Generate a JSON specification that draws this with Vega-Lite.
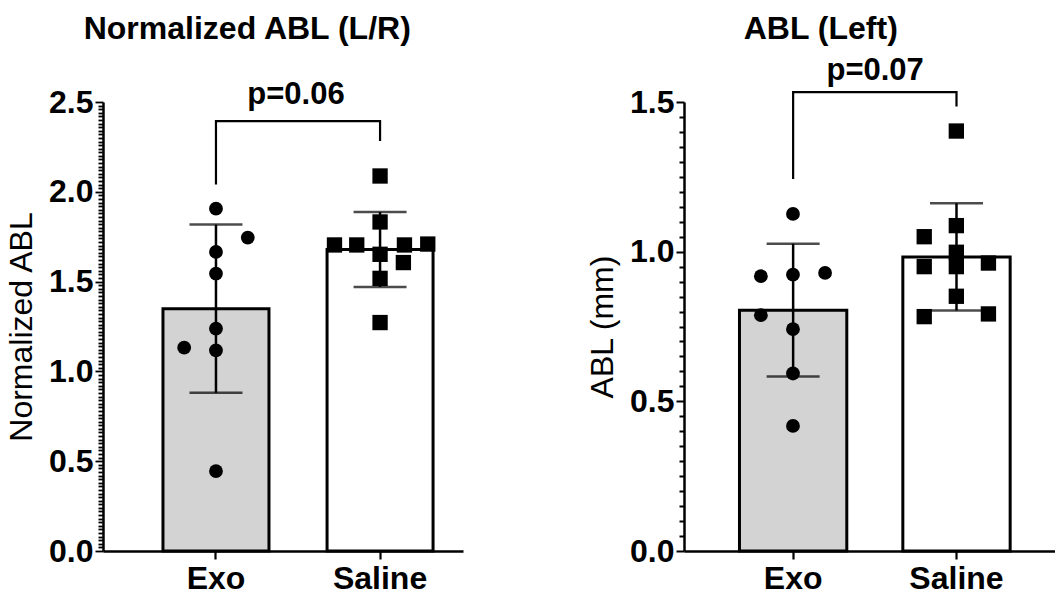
{
  "$schema": "https://vega.github.io/schema/vega-lite/v6.json",
  "padding": {"left": 5, "top": 12, "right": 0, "bottom": 5},
  "bounds": "flush",
  "spacing": 221,
  "config": {
    "font": "Liberation Sans",
    "view": {"stroke": null},
    "title": {"fontSize": 32, "fontWeight": "bold", "color": "black", "font": "Liberation Sans", "anchor": "middle", "frame": "bounds"},
    "axis": {"domainColor": "black", "tickColor": "black", "labelColor": "black", "titleColor": "black", "grid": false, "labelOverlap": false}
  },
  "hconcat": [
    {
      "width": 360,
      "height": 449,
      "title": {"text": "Normalized ABL (L/R)", "offset": 33, "dx": 13},
      "data": {"values": [
        {"group": "Exo", "value": 1.906, "jit": 0},
        {"group": "Exo", "value": 1.745, "jit": 0.30},
        {"group": "Exo", "value": 1.665, "jit": 0},
        {"group": "Exo", "value": 1.545, "jit": 0},
        {"group": "Exo", "value": 1.238, "jit": 0},
        {"group": "Exo", "value": 1.132, "jit": -0.30},
        {"group": "Exo", "value": 1.117, "jit": 0},
        {"group": "Exo", "value": 0.445, "jit": 0},
        {"group": "Saline", "value": 2.088, "jit": 0},
        {"group": "Saline", "value": 1.832, "jit": 0},
        {"group": "Saline", "value": 1.704, "jit": -0.43},
        {"group": "Saline", "value": 1.704, "jit": -0.22},
        {"group": "Saline", "value": 1.704, "jit": 0.23},
        {"group": "Saline", "value": 1.709, "jit": 0.45},
        {"group": "Saline", "value": 1.652, "jit": 0},
        {"group": "Saline", "value": 1.606, "jit": 0.22},
        {"group": "Saline", "value": 1.518, "jit": 0},
        {"group": "Saline", "value": 1.272, "jit": 0}
      ]},
      "encoding": {
        "x": {"field": "group", "type": "nominal", "sort": ["Exo", "Saline"],
          "scale": {"paddingInner": 0.354, "paddingOuter": 0.274, "align": 0.667},
          "axis": {"title": null, "labelAngle": 0, "labelFontSize": 32, "labelFontWeight": "bold", "labelPadding": 4, "tickSize": 8, "tickWidth": 2.2, "domainWidth": 2.5}},
        "y": {"field": "value", "type": "quantitative", "title": "Normalized ABL",
          "scale": {"domain": [0, 2.5], "nice": false},
          "axis": {"title": "Normalized ABL", "titleFontSize": 32, "titleFontWeight": "normal", "titlePadding": 10,
            "values": [0,0.02,0.04,0.06,0.08,0.1,0.12,0.14,0.16,0.18,0.2,0.22,0.24,0.26,0.28,0.3,0.32,0.34,0.36,0.38,0.4,0.42,0.44,0.46,0.48,0.5,0.52,0.54,0.56,0.58,0.6,0.62,0.64,0.66,0.68,0.7,0.72,0.74,0.76,0.78,0.8,0.82,0.84,0.86,0.88,0.9,0.92,0.94,0.96,0.98,1,1.02,1.04,1.06,1.08,1.1,1.12,1.14,1.16,1.18,1.2,1.22,1.24,1.26,1.28,1.3,1.32,1.34,1.36,1.38,1.4,1.42,1.44,1.46,1.48,1.5,1.52,1.54,1.56,1.58,1.6,1.62,1.64,1.66,1.68,1.7,1.72,1.74,1.76,1.78,1.8,1.82,1.84,1.86,1.88,1.9,1.92,1.94,1.96,1.98,2,2.02,2.04,2.06,2.08,2.1,2.12,2.14,2.16,2.18,2.2,2.22,2.24,2.26,2.28,2.3,2.32,2.34,2.36,2.38,2.4,2.42,2.44,2.46,2.48,2.5],
            "labelExpr": "abs(datum.value*2 - round(datum.value*2)) < 0.001 ? format(datum.value, '.1f') : ''",
            "labelFontSize": 32, "labelFontWeight": "bold", "labelPadding": 2, "labelOverlap": false,
            "tickSize": {"condition": {"test": "abs(datum.value*2 - round(datum.value*2)) < 0.001", "value": 8}, "value": 5},
            "tickWidth": 1.8, "domainWidth": 2.5}}
      },
      "resolve": {"scale": {"xOffset": "independent"}},
      "layer": [
        {
          "transform": [{"aggregate": [{"op": "mean", "field": "value", "as": "value"}], "groupby": ["group"]}],
          "mark": {"type": "bar", "stroke": "black", "strokeWidth": 3, "width": {"band": 1}},
          "encoding": {
            "color": {"field": "group", "type": "nominal", "scale": {"domain": ["Exo", "Saline"], "range": ["#d3d3d3", "#ffffff"]}, "legend": null}
          }
        },
        {
          "mark": {"type": "errorbar", "extent": "stdev", "color": "black", "ticks": {"size": 53, "thickness": 2.5}, "rule": {"strokeWidth": 2.5}}
        },
        {
          "mark": {"type": "point", "filled": true, "color": "black", "opacity": 1},
          "encoding": {
            "xOffset": {"field": "jit", "type": "quantitative", "scale": {"domain": [-0.5, 0.5], "range": [0, 106]}},
            "shape": {"field": "group", "type": "nominal", "scale": {"domain": ["Exo", "Saline"], "range": ["circle", "square"]}, "legend": null},
            "size": {"field": "group", "type": "nominal", "scale": {"domain": ["Exo", "Saline"], "range": [190, 235]}, "legend": null}
          }
        },
        {
          "data": {"values": [
            {"group": "Exo", "value": 2.041, "o": 1},
            {"group": "Exo", "value": 2.394, "o": 2},
            {"group": "Saline", "value": 2.394, "o": 3},
            {"group": "Saline", "value": 2.283, "o": 4}
          ]},
          "mark": {"type": "line", "color": "black", "strokeWidth": 2.2, "clip": false},
          "encoding": {
            "order": {"field": "o", "type": "quantitative"}
          }
        },
        {
          "data": {"values": [{"group": "Exo", "value": 2.487, "label": "p=0.06"}]},
          "mark": {"type": "text", "dx": 80, "align": "center", "baseline": "alphabetic", "fontSize": 31, "fontWeight": "bold", "color": "black", "clip": false},
          "encoding": {
            "text": {"field": "label"}
          }
        }
      ]
    },
    {
      "width": 371,
      "height": 449,
      "title": {"text": "ABL (Left)", "offset": 9},
      "data": {"values": [
        {"group": "Exo", "value": 1.126, "jit": 0},
        {"group": "Exo", "value": 0.918, "jit": -0.30},
        {"group": "Exo", "value": 0.923, "jit": 0},
        {"group": "Exo", "value": 0.929, "jit": 0.30},
        {"group": "Exo", "value": 0.788, "jit": -0.30},
        {"group": "Exo", "value": 0.741, "jit": 0},
        {"group": "Exo", "value": 0.593, "jit": 0},
        {"group": "Exo", "value": 0.418, "jit": 0},
        {"group": "Saline", "value": 1.403, "jit": 0},
        {"group": "Saline", "value": 1.087, "jit": 0},
        {"group": "Saline", "value": 1.050, "jit": -0.30},
        {"group": "Saline", "value": 0.998, "jit": 0},
        {"group": "Saline", "value": 0.950, "jit": -0.30},
        {"group": "Saline", "value": 0.950, "jit": 0},
        {"group": "Saline", "value": 0.962, "jit": 0.30},
        {"group": "Saline", "value": 0.851, "jit": 0},
        {"group": "Saline", "value": 0.783, "jit": -0.30},
        {"group": "Saline", "value": 0.792, "jit": 0.30}
      ]},
      "encoding": {
        "x": {"field": "group", "type": "nominal", "sort": ["Exo", "Saline"],
          "scale": {"paddingInner": 0.343, "paddingOuter": 0.307, "align": 0.553},
          "axis": {"title": null, "labelAngle": 0, "labelFontSize": 32, "labelFontWeight": "bold", "labelPadding": 4, "tickSize": 8, "tickWidth": 2.2, "domainWidth": 2.5}},
        "y": {"field": "value", "type": "quantitative", "title": "ABL (mm)",
          "scale": {"domain": [0, 1.5], "nice": false},
          "axis": {"title": "ABL (mm)", "titleFontSize": 32, "titleFontWeight": "normal", "titlePadding": 10,
            "values": [0,0.05,0.1,0.15,0.2,0.25,0.3,0.35,0.4,0.45,0.5,0.55,0.6,0.65,0.7,0.75,0.8,0.85,0.9,0.95,1,1.05,1.1,1.15,1.2,1.25,1.3,1.35,1.4,1.45,1.5],
            "labelExpr": "abs(datum.value*2 - round(datum.value*2)) < 0.001 ? format(datum.value, '.1f') : ''",
            "labelFontSize": 32, "labelFontWeight": "bold", "labelPadding": 2, "labelOverlap": false,
            "tickSize": {"condition": {"test": "abs(datum.value*2 - round(datum.value*2)) < 0.001", "value": 8}, "value": 5},
            "tickWidth": 2, "domainWidth": 2.5}}
      },
      "resolve": {"scale": {"xOffset": "independent"}},
      "layer": [
        {
          "transform": [{"aggregate": [{"op": "mean", "field": "value", "as": "value"}], "groupby": ["group"]}],
          "mark": {"type": "bar", "stroke": "black", "strokeWidth": 3, "width": {"band": 1}},
          "encoding": {
            "color": {"field": "group", "type": "nominal", "scale": {"domain": ["Exo", "Saline"], "range": ["#d3d3d3", "#ffffff"]}, "legend": null}
          }
        },
        {
          "mark": {"type": "errorbar", "extent": "stdev", "color": "black", "ticks": {"size": 53, "thickness": 2.5}, "rule": {"strokeWidth": 2.5}}
        },
        {
          "mark": {"type": "point", "filled": true, "color": "black", "opacity": 1},
          "encoding": {
            "xOffset": {"field": "jit", "type": "quantitative", "scale": {"domain": [-0.5, 0.5], "range": [0, 107]}},
            "shape": {"field": "group", "type": "nominal", "scale": {"domain": ["Exo", "Saline"], "range": ["circle", "square"]}, "legend": null},
            "size": {"field": "group", "type": "nominal", "scale": {"domain": ["Exo", "Saline"], "range": [200, 270]}, "legend": null}
          }
        },
        {
          "data": {"values": [
            {"group": "Exo", "value": 1.243, "o": 1},
            {"group": "Exo", "value": 1.533, "o": 2},
            {"group": "Saline", "value": 1.533, "o": 3},
            {"group": "Saline", "value": 1.485, "o": 4}
          ]},
          "mark": {"type": "line", "color": "black", "strokeWidth": 2.2, "clip": false},
          "encoding": {
            "order": {"field": "o", "type": "quantitative"}
          }
        },
        {
          "data": {"values": [{"group": "Exo", "value": 1.574, "label": "p=0.07"}]},
          "mark": {"type": "text", "dx": 82, "align": "center", "baseline": "alphabetic", "fontSize": 31, "fontWeight": "bold", "color": "black", "clip": false},
          "encoding": {
            "text": {"field": "label"}
          }
        }
      ]
    }
  ]
}
